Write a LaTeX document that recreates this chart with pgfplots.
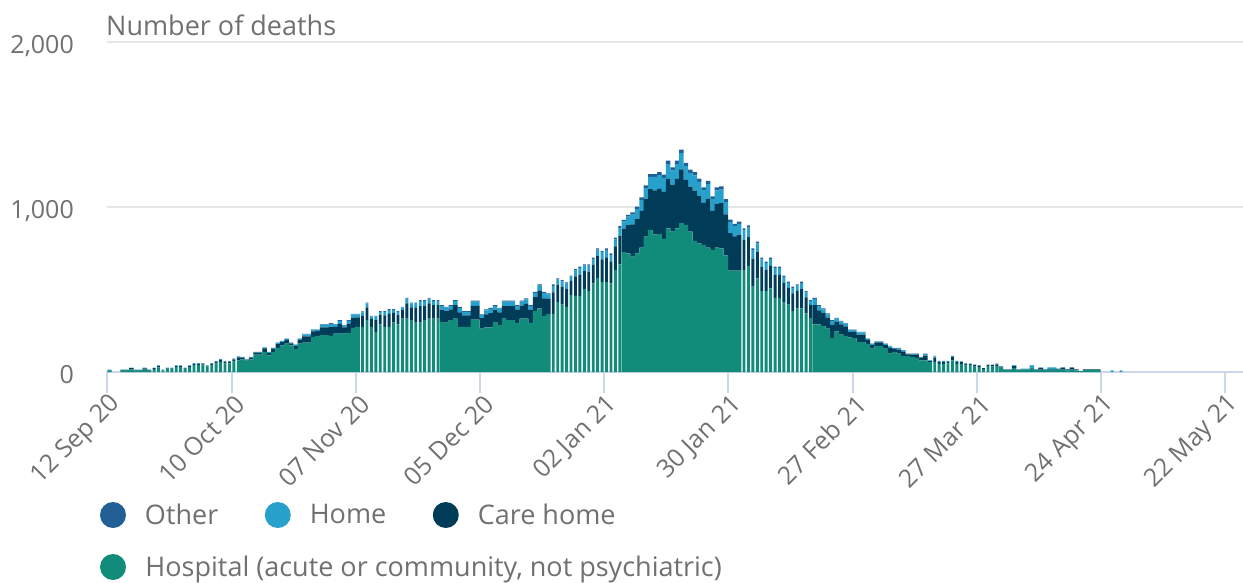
\documentclass[border=0pt]{standalone}
\usepackage{pgfplots}
\pgfplotsset{compat=1.18}
\usepackage{pgfplotstable}
\usepackage{fontspec}
\setmainfont{Open Sans}
\definecolor{otherc}{HTML}{206095}
\definecolor{homec}{HTML}{27A0CC}
\definecolor{carec}{HTML}{003C57}
\definecolor{hospc}{HTML}{118C7B}
\definecolor{txt}{HTML}{707070}
\definecolor{gridc}{HTML}{E6E6E6}
\definecolor{axc}{HTML}{CCD6EB}

% day: days since 12 Sep 2020; H hospital, C care home, M home, O other
\pgfplotstableread{
day H C M O
0 6 2 6 0
3 8 5 1 0
4 9 4 1 0
5 16 8 2 0
6 10 3 1 0
7 8 3 3 0
8 15 7 4 0
9 9 4 1 0
30 77 10 3 1
31 69 6 2 0
32 77 10 3 1
33 105 12 4 1
34 105 12 4 1
35 122 21 6 1
36 101 15 5 1
37 122 18 5 1
38 146 23 7 2
39 162 19 6 1
40 172 22 7 2
41 162 11 4 1
42 138 21 6 1
43 172 22 7 2
44 178 38 12 3
45 178 38 12 3
46 213 34 10 2
47 219 29 9 2
48 223 48 14 3
49 223 48 14 3
50 219 56 17 4
51 233 40 12 3
52 233 59 18 4
53 233 37 11 3
54 237 56 17 4
55 267 63 19 4
56 273 58 18 4
75 304 74 22 5
76 300 69 21 5
77 314 66 20 5
78 324 81 25 6
79 273 89 27 6
80 273 70 21 5
81 273 70 21 5
82 318 83 25 6
83 318 83 25 6
84 263 63 19 4
85 271 79 24 5
86 271 86 26 6
87 304 74 22 5
88 284 77 23 5
89 324 79 24 5
90 314 86 26 6
91 314 86 26 6
92 298 78 24 5
93 324 79 24 5
94 324 89 27 6
95 298 78 24 5
96 369 85 26 6
97 385 107 32 7
98 340 107 32 7
99 353 90 27 6
116 726 143 43 10
117 719 171 51 12
118 699 196 59 13
119 719 208 62 14
120 754 222 67 15
121 821 226 68 16
122 861 247 75 17
123 834 267 81 18
124 835 275 83 19
125 807 284 86 19
126 871 299 90 21
127 851 284 86 19
128 871 299 90 21
129 902 326 98 22
130 892 273 83 19
131 851 273 83 19
132 794 305 92 21
133 780 286 86 20
134 770 255 77 17
135 754 296 89 20
136 740 237 71 16
137 754 267 80 18
138 750 273 83 19
139 707 248 75 17
140 615 226 68 15
141 615 207 62 14
142 615 217 65 15
159 288 118 36 8
160 288 85 26 6
161 280 77 23 5
162 263 67 20 5
163 207 78 24 5
164 247 59 18 4
165 226 62 18 4
166 219 57 17 4
167 210 35 10 2
168 205 38 11 3
169 182 45 13 3
170 182 45 13 3
171 170 24 7 2
172 142 21 7 2
173 158 21 6 1
174 158 21 6 1
175 142 21 7 2
176 111 35 10 2
177 122 18 5 1
178 111 25 8 2
179 97 25 8 2
180 97 10 3 1
181 91 15 4 1
182 85 19 6 1
183 71 15 4 1
184 71 29 9 2
185 60 8 2 1
201 26 7 3 0
202 12 3 1 0
203 12 3 1 0
204 25 10 5 1
205 12 2 2 0
206 12 2 6 0
207 12 2 6 0
208 20 4 16 1
209 12 2 2 0
210 14 10 4 0
211 12 2 2 0
212 14 4 10 0
213 14 4 10 0
214 14 5 1 0
215 14 12 0 2
216 10 6 0 0
217 14 12 0 2
218 10 6 0 0
219 5 0 0 0
220 12 4 0 0
221 12 4 0 0
222 12 4 0 0
223 12 4 0 0
}\groupA

\pgfplotstableread{
day H C M O
10 17 7 2 0
11 28 10 2 0
12 10 3 1 0
13 20 4 2 0
14 20 4 2 0
15 30 7 3 0
16 31 6 3 0
17 20 4 2 0
18 30 7 3 0
19 42 9 3 0
20 42 8 3 1
21 44 7 3 0
22 32 6 2 0
23 42 9 3 0
24 52 11 4 0
25 62 13 4 0
26 53 10 4 0
27 53 10 4 0
28 64 12 4 1
29 70 19 5 1
57 273 68 21 5
58 314 78 24 5
59 273 49 15 3
60 243 71 21 5
61 288 59 18 4
62 273 70 21 5
63 273 79 24 5
64 300 59 18 4
65 288 59 18 4
66 324 51 16 4
67 324 92 28 6
68 314 78 24 5
69 300 88 27 6
70 300 99 30 7
71 314 89 27 6
72 324 92 28 6
73 324 81 25 6
74 324 81 25 6
100 353 130 39 9
101 425 104 31 7
102 409 108 33 7
103 395 108 33 7
104 466 86 26 6
105 462 118 36 8
106 462 128 39 9
107 503 109 33 7
108 490 118 36 8
109 537 114 34 8
110 571 131 39 9
111 545 138 41 9
112 545 150 45 10
113 537 133 40 9
114 618 143 43 10
115 652 171 51 12
143 618 184 56 13
144 638 182 55 13
145 517 170 51 12
146 567 163 49 11
147 490 148 45 10
148 490 131 39 9
149 507 136 41 9
150 450 138 41 9
151 450 138 41 9
152 421 119 36 8
153 409 101 30 7
154 369 108 33 7
155 385 107 32 7
156 385 118 36 8
157 355 98 30 7
158 328 79 24 5
186 60 27 8 2
187 50 12 4 1
188 50 12 4 1
189 52 11 3 1
190 70 20 6 1
191 50 12 4 1
192 48 12 4 1
193 40 9 3 1
194 38 9 3 1
195 33 8 3 1
196 30 8 2 1
197 18 5 1 0
198 32 9 3 1
199 33 8 3 1
200 36 10 4 1
226 0 0 10 0
228 0 0 10 0
}\groupB

\begin{document}
\begin{tikzpicture}
\path[use as bounding box] (-107.5pt,-210pt) rectangle (1135.5pt,372pt);
\begin{axis}[
  scale only axis, width=1135.5pt, height=330pt,
  xmin=0, xmax=256, ymin=0, ymax=2000,
  clip mode=individual,
  ybar stacked, bar width=1.02, bar shift=0.4,
  axis x line*=bottom, axis y line*=left,
  x axis line style={axc, line width=2pt, -},
  y axis line style={draw=none},
  xtick={0,28,...,252},
  xticklabels={12 Sep 20,10 Oct 20,07 Nov 20,05 Dec 20,02 Jan 21,30 Jan 21,27 Feb 21,27 Mar 21,24 Apr 21,22 May 21},
  ytick={0,1000,2000},
  scaled y ticks=false,
  tick align=outside, major tick length=21pt,
  xtick style={axc, line width=2pt},
  ytick style={draw=none},
  ymajorgrids, grid style={gridc, line width=1.5pt},
  tick label style={font=\fontsize{25}{30}\selectfont, text=txt},
  /pgf/number format/assume math mode=true,
  /pgf/number format/1000 sep={,},
  yticklabel style={anchor=base east, inner sep=0pt, xshift=-12.5pt, yshift=-11pt},
  xticklabel style={rotate=45, anchor=east, inner sep=0pt, xshift=1.5pt, yshift=-11.5pt},
  every axis plot post/.append style={legend image code/.code={\fill[##1] (13pt,0pt) circle[radius=13pt];}},
  legend columns=3,
  reverse legend,
  legend cell align=left,
  legend style={draw=none, fill=none, inner sep=0pt, outer sep=0pt,
    at={([shift={(-7.5pt,-130pt)}]axis description cs:0,0)}, anchor=north west,
    font=\fontsize{27}{32}\selectfont,
    nodes={inner sep=0pt, text=txt},
    row sep=26pt,
    /tikz/every odd column/.append style={column sep=19pt},
    /tikz/every even column/.append style={column sep=46.5pt}},
]
\addplot[fill=hospc, draw=none] table[x=day, y=H] {\groupA};
\addlegendentry{\makebox[0pt][l]{Hospital (acute or community, not psychiatric)}}
\addplot[fill=carec, draw=none] table[x=day, y=C] {\groupA};
\addlegendentry{Care home}
\addplot[fill=homec, draw=none] table[x=day, y=M] {\groupA};
\addlegendentry{Home}
\addplot[fill=otherc, draw=none] table[x=day, y=O] {\groupA};
\addlegendentry{Other}
\node[anchor=base west, inner sep=0pt, font=\fontsize{27}{32}\selectfont, text=txt, xshift=-1.5pt, yshift=7pt] at (rel axis cs:0,1) {Number of deaths};
\end{axis}
\begin{axis}[
  scale only axis, width=1135.5pt, height=330pt,
  xmin=0, xmax=256, ymin=0, ymax=2000,
  hide axis,
  ybar stacked, bar width=0.65, bar shift=0.5,
]
\addplot[fill=hospc, draw=none] table[x=day, y=H] {\groupB};
\addplot[fill=carec, draw=none] table[x=day, y=C] {\groupB};
\addplot[fill=homec, draw=none] table[x=day, y=M] {\groupB};
\addplot[fill=otherc, draw=none] table[x=day, y=O] {\groupB};
\end{axis}
\end{tikzpicture}
\end{document}
